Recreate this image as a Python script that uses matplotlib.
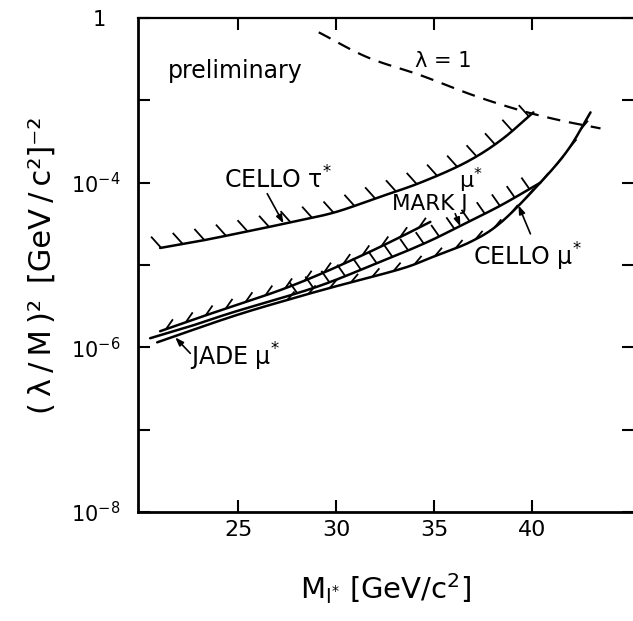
import numpy as np
import matplotlib
matplotlib.use('Agg')
import matplotlib.pyplot as plt

# ---- data ----
lam1_m = [29.10, 31.58, 34.29, 37.00, 39.40, 41.45, 43.49]
lam1_y = [6.70e-3, 3.34e-3, 2.02e-3, 1.15e-3, 7.55e-4, 5.70e-4, 4.56e-4]

tau_m = [21.00, 23.04, 25.60, 27.29, 29.84, 32.09, 34.29, 36.59, 38.38, 40.06]
tau_y = [1.61e-5, 1.96e-5, 2.60e-5, 3.16e-5, 4.31e-5, 6.56e-5, 1.00e-4, 1.75e-4, 3.25e-4, 7.14e-4]

jade_m = [21.00, 23.04, 24.73, 27.13, 29.18, 31.58, 33.27, 34.80]
jade_y = [1.57e-6, 2.32e-6, 3.16e-6, 4.95e-6, 7.76e-6, 1.40e-5, 2.19e-5, 3.34e-5]

markj_m = [20.49, 22.53, 24.73, 28.82, 31.73, 34.54, 36.33, 38.37, 40.42]
markj_y = [1.29e-6, 1.80e-6, 2.67e-6, 5.25e-6, 9.73e-6, 1.85e-5, 2.99e-5, 5.25e-5, 1.00e-4]

cellomu_m = [20.85, 24.73, 27.64, 29.84, 33.27, 34.80, 36.85, 38.38, 40.27, 41.80, 42.98]
cellomu_y = [1.15e-6, 2.39e-6, 3.85e-6, 5.40e-6, 8.93e-6, 1.22e-5, 1.91e-5, 3.25e-5, 9.18e-5, 2.45e-4, 7.14e-4]

xticks = [25, 30, 35, 40]
yticks = [1e-8, 1e-7, 1e-6, 1e-5, 1e-4, 1e-3, 1e-2]
ytick_labels = [r'$10^{-8}$', '', r'$10^{-6}$', '', r'$10^{-4}$', '', '1  ']

# ---- figure ----
W, H = 633, 621
fig = plt.figure(figsize=(W / 100, H / 100), dpi=100)
ax = fig.add_axes([138 / W, 1 - 512 / H, (634 - 138) / W, (512 - 18) / H])
ax.set_yscale('log')
ax.set_xlim(19.87, 45.2)
ax.set_ylim(1e-8, 1e-2)

ax.set_xticks(xticks)
ax.set_xticklabels([str(t) for t in xticks])
ax.set_yticks(yticks)
ax.set_yticklabels(ytick_labels)
ax.yaxis.set_minor_locator(matplotlib.ticker.NullLocator())
ax.tick_params(direction='in', top=True, right=True, length=8.5, width=1.5,
               labelsize=15, colors='black')
ax.tick_params(axis='x', pad=6, labelsize=16)
ax.tick_params(axis='y', pad=13)
ax.spines['right'].set_visible(False)
ax.spines['left'].set_linewidth(2.0)
ax.spines['bottom'].set_linewidth(2.0)
ax.spines['top'].set_linewidth(1.6)


def smooth(xs, ys, n=20):
    """Catmull-Rom rendering through the read points (x, log y)."""
    P = np.column_stack([np.asarray(xs, float), np.log10(ys)])
    P = np.vstack([2 * P[0] - P[1], P, 2 * P[-1] - P[-2]])
    out = []
    t = np.linspace(0, 1, n, endpoint=False)[:, None]
    for i in range(1, len(P) - 2):
        p0, p1, p2, p3 = P[i - 1], P[i], P[i + 1], P[i + 2]
        out.append(0.5 * (2 * p1 + (-p0 + p2) * t + (2 * p0 - 5 * p1 + 4 * p2 - p3) * t ** 2
                          + (-p0 + 3 * p1 - 3 * p2 + p3) * t ** 3))
    out.append(P[-2][None, :])
    R = np.vstack(out)
    return R[:, 0], 10 ** R[:, 1]


lw = 1.8
curves = {}
for name, (xs, ys) in {'lam': (lam1_m, lam1_y), 'tau': (tau_m, tau_y),
                       'jade': (jade_m, jade_y), 'markj': (markj_m, markj_y),
                       'cmu': (cellomu_m, cellomu_y)}.items():
    curves[name] = smooth(xs, ys)

ax.plot(*curves['lam'], color='black', lw=1.6, dashes=(6, 4))
for k in ['tau', 'jade', 'markj', 'cmu']:
    ax.plot(*curves[k], color='black', lw=lw, solid_capstyle='round')


def hatch(xs, ys, x_from, x_to, spacing, length, angle_deg, lw_h=1.3):
    trans = ax.transData
    pts = trans.transform(np.column_stack([xs, ys]))
    seg = np.hypot(np.diff(pts[:, 0]), np.diff(pts[:, 1]))
    cum = np.concatenate([[0.0], np.cumsum(seg)])
    s0 = np.interp(x_from, xs, cum)
    s1 = np.interp(x_to, xs, cum)
    svals = np.arange(s0, s1, spacing)
    px = np.interp(svals, cum, pts[:, 0])
    py = np.interp(svals, cum, pts[:, 1])
    a = np.deg2rad(angle_deg)
    inv = trans.inverted()
    for x0, y0 in zip(px, py):
        p = inv.transform([[x0, y0], [x0 + length * np.cos(a), y0 + length * np.sin(a)]])
        ax.plot(p[:, 0], p[:, 1], color='black', lw=lw_h, solid_capstyle='butt')


hatch(*curves['tau'], 21.05, 40.0, 22, 15, 132)
hatch(*curves['jade'], 21.3, 34.6, 21, 12, 55)
hatch(*curves['markj'], 28.0, 40.2, 17, 14, 125)
hatch(*curves['cmu'], 27.5, 42.8, 22, 11, 50)

# ---- labels ----
tr = ax.transAxes
ax.text(0.061, 0.893, 'preliminary', transform=tr, fontsize=17, ha='left', va='center')
ax.text(0.616, 0.913, 'λ = 1', transform=tr, fontsize=15, ha='center', va='center')
ax.text(0.283, 0.672, r'CELLO τ$^{*}$', transform=tr, fontsize=17, ha='center', va='center')
ax.text(0.648, 0.672, r'μ$^{*}$', transform=tr, fontsize=16, ha='left', va='center')
ax.text(0.513, 0.623, 'MARK J', transform=tr, fontsize=15.5, ha='left', va='center')
ax.text(0.675, 0.516, r'CELLO μ$^{*}$', transform=tr, fontsize=17, ha='left', va='center')
ax.text(0.105, 0.314, r'JADE μ$^{*}$', transform=tr, fontsize=17, ha='left', va='center')

ap = dict(arrowstyle='-|>,head_length=0.5,head_width=0.18', color='black', lw=1.2,
          shrinkA=0, shrinkB=0)
ax.annotate('', xy=(27.3, 3.2e-5), xytext=(26.47, 7.35e-5), arrowprops=ap)
ax.annotate('', xy=(36.33, 2.95e-5), xytext=(36.07, 4.2e-5), arrowprops=ap)
ax.annotate('', xy=(39.30, 5.3e-5), xytext=(39.91, 2.39e-5), arrowprops=ap)
ax.annotate('', xy=(21.77, 1.32e-6), xytext=(22.54, 8.45e-7), arrowprops=ap)

ts = '\u2009'
ax.set_xlabel(r'M$_{\mathregular{l}^{*}}$ [GeV/c$^{2}$]', fontsize=21, labelpad=22)
ax.set_ylabel('(' + ts + 'λ' + ts + '/' + ts + 'M' + ts + ')²' + ts + ' [GeV' + ts + '/' + ts + 'c²]⁻²',
              fontsize=22, labelpad=10)

fig.savefig('out.png', dpi=100)
